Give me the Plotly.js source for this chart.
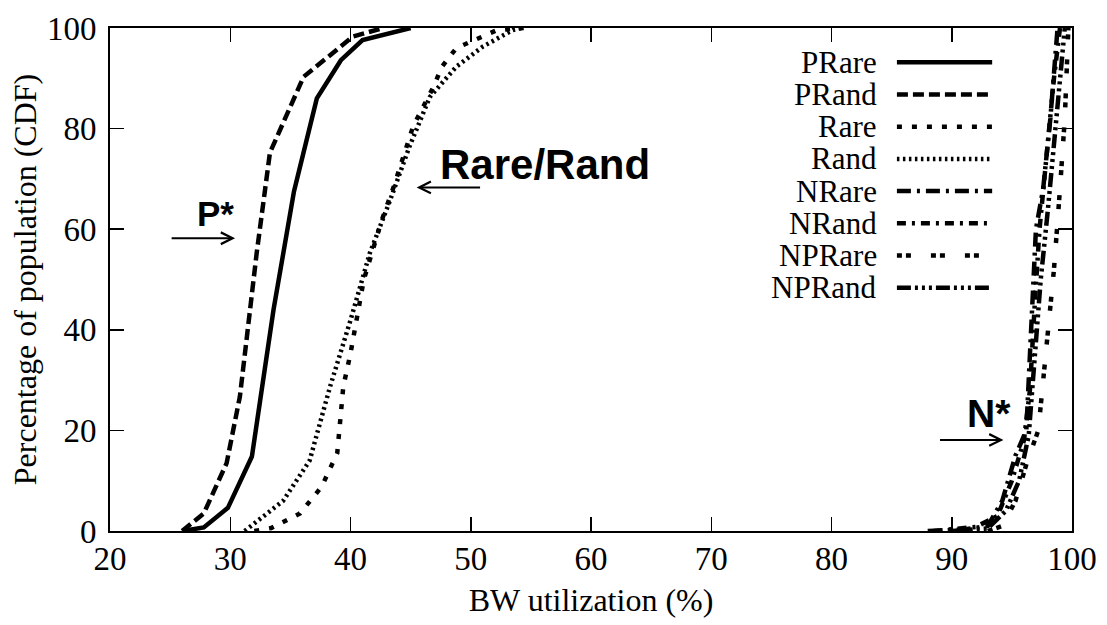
<!DOCTYPE html>
<html>
<head>
<meta charset="utf-8">
<script src="https://cdn.plot.ly/plotly-3.0.1.min.js"></script>
<style>html,body{margin:0;padding:0;background:#fff;}#chart{width:1107px;height:625px;}</style>
</head>
<body>
<div id="chart"></div>
<script>
// ---- data ----
const seriesNames = ["PRare", "PRand", "Rare", "Rand", "NRare", "NRand", "NPRare", "NPRand"];

const prareX = [26, 27.8, 29.8, 31.8, 33.6, 35.3, 37.2, 39.2, 41.0, 45.0];
const prareY = [0, 0.7, 4.6, 14.8, 44, 67.5, 86, 93.6, 97.6, 100];

const prandX = [26, 27.8, 29.7, 30.8, 32.2, 33.3, 36.1, 39.0, 40.2, 42.7];
const prandY = [0, 3.5, 13.5, 26.7, 55.3, 75.2, 90.3, 96, 98.3, 100];

const rareX = [32.0, 33.4, 35.8, 37.6, 38.9, 39.4, 40.0, 41.1, 42.6, 43.6, 45.2, 46.9, 47.6, 48.8, 52.2, 54.4];
const rareY = [0, 0.6, 3.5, 8.8, 15.5, 28.7, 35.3, 49.9, 61.8, 68.5, 80.4, 88.3, 92.3, 96, 99.6, 100];

const randX = [31.2, 34.4, 36.6, 38.3, 40.0, 41.6, 43.3, 44.9, 46.6, 48.8, 51.0, 53.5, 54.3];
const randY = [0, 6, 14, 28.7, 41.9, 55.2, 65.8, 76.4, 86.3, 92.3, 96.3, 99.6, 100];

const nrareX = [88, 91, 93, 94.2, 95.3, 96.2, 96.6, 97.0, 97.6, 98.2, 98.8];
const nrareY = [0, 0.3, 1, 6, 15, 20, 40, 60, 68, 82, 100];

const nrandX = [88.5, 92, 93.8, 95, 96, 96.5, 96.9, 97.3, 97.9, 98.5, 99.0];
const nrandY = [0, 0.8, 3, 10, 18, 28, 45, 60, 75, 90, 100];

const nprareX = [93, 94.2, 95.3, 96.3, 97.2, 97.8, 98.5, 99.0, 99.4, 99.7];
const nprareY = [0, 1, 6, 14, 20, 35, 52, 68, 82, 100];

const nprandX = [90, 93, 94.5, 95.6, 96.4, 96.9, 97.4, 98.0, 98.6, 99.1, 99.4];
const nprandY = [0, 0.5, 4, 10, 19, 35, 50, 64, 80, 92, 100];

const xTicks = [20, 30, 40, 50, 60, 70, 80, 90, 100];
const yTicks = [0, 20, 40, 60, 80, 100];

// ---- styles ----
const dashes = [
  "solid",
  "11px,5px",
  "5px,10px",
  "2.5px,3.5px",
  "14px,6px,3px,6px",
  "9px,6px,3px,6px",
  "5px,4px,5px,20px",
  "14px,4px,3px,4px,3px,4px,3px,4px"
];
const xs = [prareX, prandX, rareX, randX, nrareX, nrandX, nprareX, nprandX];
const ys = [prareY, prandY, rareY, randY, nrareY, nrandY, nprareY, nprandY];

const traces = seriesNames.map((n, i) => ({
  type: "scatter", mode: "lines", name: n,
  x: xs[i], y: ys[i],
  line: {color: "#000", width: 4.5, dash: dashes[i]},
  showlegend: false
}));

// manual legend (text left of sample, like the reference)
const shapes = [];
const annotations = [];
const legTop = (531 - 62.3) / 503, legStep = 32.2 / 503;
seriesNames.forEach((n, i) => {
  const yy = legTop - i * legStep;
  shapes.push({type: "line", xref: "paper", yref: "paper",
    x0: 0.818, x1: 0.917, y0: yy, y1: yy,
    line: {color: "#000", width: 4.5, dash: dashes[i]}});
  annotations.push({xref: "paper", yref: "paper", x: 0.799, y: yy,
    xanchor: "right", yanchor: "middle", showarrow: false, text: n,
    font: {family: "Liberation Serif", size: 31, color: "#000"}});
});

const boldFont = (s) => ({family: "Liberation Sans", size: s, color: "#000", weight: 700});
annotations.push(
  {x: 28.8, y: 63.2, text: "P*", showarrow: false, font: boldFont(35)},
  {x: 30.4, y: 58.2, ax: 25, ay: 58.2, axref: "x", ayref: "y", text: "", showarrow: true,
   arrowhead: 5, arrowsize: 1.15, arrowwidth: 2, arrowcolor: "#000"},
  {x: 56.2, y: 72.8, text: "Rare/Rand", showarrow: false, font: boldFont(42)},
  {x: 45.5, y: 68.3, ax: 50.9, ay: 68.3, axref: "x", ayref: "y", text: "", showarrow: true,
   arrowhead: 5, arrowsize: 1.15, arrowwidth: 2, arrowcolor: "#000"},
  {x: 93.1, y: 23.3, text: "N*", showarrow: false, font: boldFont(39)},
  {x: 94.3, y: 18.1, ax: 88.9, ay: 18.1, axref: "x", ayref: "y", text: "", showarrow: true,
   arrowhead: 5, arrowsize: 1.15, arrowwidth: 2, arrowcolor: "#000"}
);

const axisCommon = {
  showgrid: false, zeroline: false, showline: true, linewidth: 2, linecolor: "#000",
  mirror: "allticks", ticks: "inside", ticklen: 14, tickwidth: 1.5, tickcolor: "#000",
  tickfont: {family: "Liberation Serif", size: 33, color: "#000"}
};

const layout = {
  width: 1107, height: 625,
  margin: {l: 110, r: 35, t: 28, b: 94},
  paper_bgcolor: "#fff", plot_bgcolor: "#fff",
  font: {family: "Liberation Serif", size: 32, color: "#000"},
  xaxis: Object.assign({}, axisCommon, {
    range: [20, 100], tickvals: xTicks, ticktext: xTicks.map(String),
    ticklabelstandoff: -3,
    title: {text: "BW utilization (%)", font: {family: "Liberation Serif", size: 32}, standoff: 13}
  }),
  yaxis: Object.assign({}, axisCommon, {
    range: [0, 100], tickvals: yTicks, ticktext: yTicks.map(String),
    ticklabelstandoff: 5,
    title: {text: "Percentage of population (CDF)", font: {family: "Liberation Serif", size: 32}, standoff: 1}
  }),
  shapes: shapes,
  annotations: annotations,
  showlegend: false
};

Plotly.newPlot("chart", traces, layout, {displayModeBar: false, staticPlot: true});
</script>
</body>
</html>
